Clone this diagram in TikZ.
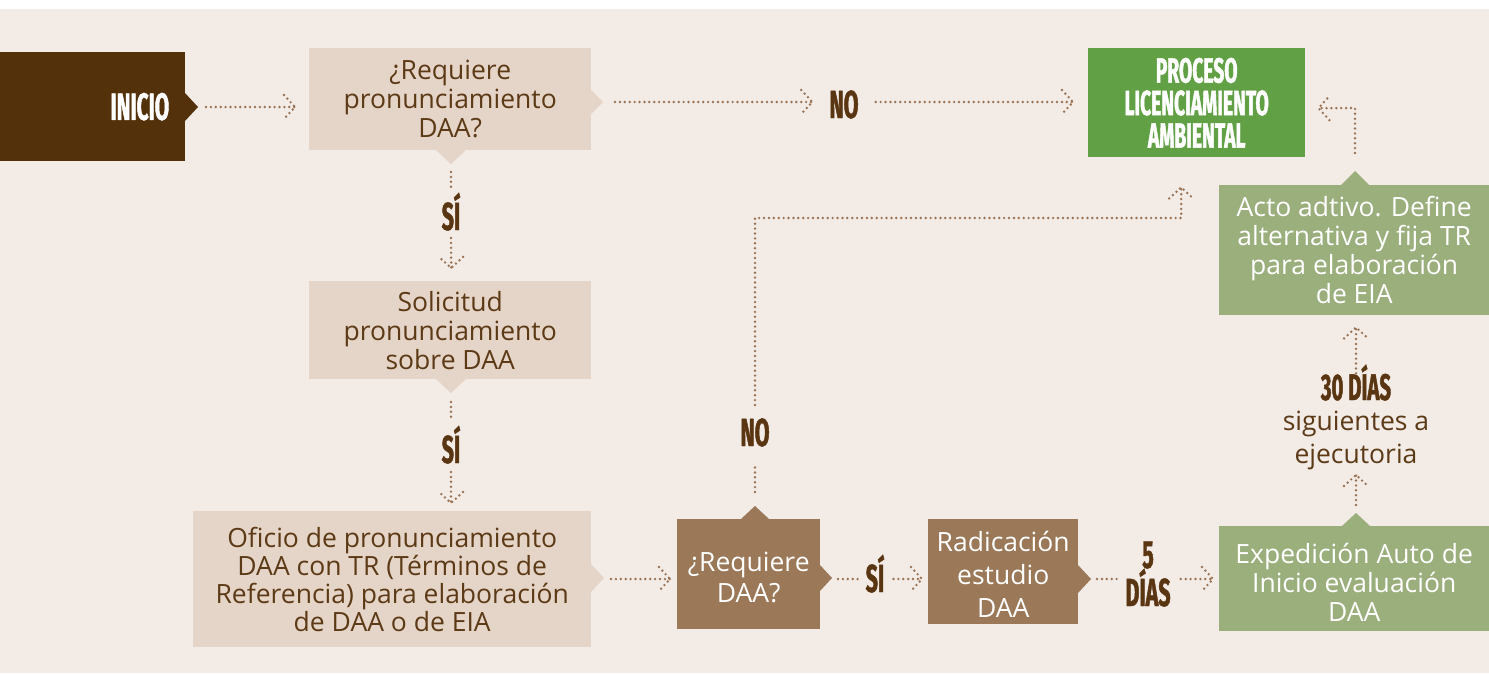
\documentclass[tikz,border=0pt]{standalone}
\usepackage{fontspec}
\setmainfont{Open Sans}
\newfontfamily\cond{Fira Sans}[FakeStretch=0.55,FakeBold=1.2]
\usetikzlibrary{decorations.markings,calc}
\definecolor{bg}{HTML}{F2EBE6}
\definecolor{dk}{HTML}{53310B}
\definecolor{lb}{HTML}{E5D5C8}
\definecolor{tc}{HTML}{5C3A16}
\definecolor{lc}{HTML}{5A3511}
\definecolor{dotc}{HTML}{9A7254}
\definecolor{mb}{HTML}{9A7858}
\definecolor{gr}{HTML}{62A046}
\definecolor{sg}{HTML}{9BAF7D}
\newcommand{\dnby}[1]{\rule{0pt}{\dimexpr 20pt+#1\relax}}
\tikzset{
  box/.style={inner sep=0pt, anchor=north west, align=center,
    font=\fontsize{26.5}{29}\selectfont},
  lab/.style={inner sep=0pt, anchor=base, align=center, text=lc,
    font=\cond\bfseries\fontsize{39}{38}\selectfont},
  dl/.style={draw=dotc, line width=2.7pt, line cap=round, dash pattern=on 0pt off 4.9pt},
  arr/.style={dl, postaction={decorate, decoration={markings,
    mark=at position 1 with {\draw[dl] (-11,-12) -- (0,0) -- (-11,12);}}}}
}
\begin{document}
\begin{tikzpicture}[x=1pt,y=-1pt]
\useasboundingbox (0,0) rectangle (1489,673);
\fill[white] (0,0) rectangle (1489,9);
\fill[bg] (0,9) rectangle (1489,673);

% boxes
\node[box, fill=dk, text=white, minimum width=185pt, minimum height=109pt,
  text width=153pt, inner xsep=16pt, align=right,
  font=\cond\bfseries\fontsize{38}{38}\selectfont] (ini) at (0,52) {INICIO};
\node[box, fill=lb, text=tc, minimum width=282pt, minimum height=102pt] (b1) at (309,48)
  {¿Requiere\\pronunciamiento\\DAA?};
\node[box, fill=lb, text=tc, minimum width=282pt, minimum height=98pt] (b2) at (309,281)
  {Solicitud\\pronunciamiento\\sobre DAA};
\node[box, fill=lb, text=tc, minimum width=398pt, minimum height=136pt,
  font=\fontsize{26.5}{28}\selectfont] (b3) at (193,511)
  {Oficio de pronunciamiento\\DAA con TR (Términos de\\Referencia) para elaboración\\de DAA o de EIA};
\node[box, fill=mb, text=white, minimum width=143pt, minimum height=110pt,
  font=\fontsize{26.5}{31}\selectfont] (b4) at (677,519) {\dnby{6pt}¿Requiere\\DAA?};
\node[box, fill=mb, text=white, minimum width=150pt, minimum height=105pt,
  font=\fontsize{26.5}{33}\selectfont] (b5) at (928,519) {\dnby{6pt}Radicación\\estudio\\DAA};
\node[box, fill=sg, text=white, minimum width=270pt, minimum height=105pt] (b6) at (1219,526)
  {\dnby{8pt}Expedición Auto de\\Inicio evaluación\\DAA};
\node[box, fill=sg, text=white, minimum width=270pt, minimum height=130pt] (b7) at (1219,185)
  {Acto adtivo. Define\\alternativa y fija TR\\para elaboración\\de EIA};
\node[box, fill=gr, text=white, minimum width=217pt, minimum height=109pt,
  font=\cond\bfseries\fontsize{35}{32.5}\selectfont] (pc) at (1088,48)
  {PROCESO\\LICENCIAMIENTO\\AMBIENTAL};

% pointers
\fill[dk] (185,93) -- (198,107) -- (185,121) -- cycle;
\fill[lb] (591,90) -- (603,102) -- (591,114) -- cycle;
\fill[lb] (436,150) -- (451,164) -- (466,150) -- cycle;
\fill[lb] (436,379) -- (451,393) -- (466,379) -- cycle;
\fill[lb] (591,564) -- (604,578) -- (591,592) -- cycle;
\fill[mb] (741,519) -- (755,506) -- (769,519) -- cycle;
\fill[mb] (820,565) -- (832,578) -- (820,591) -- cycle;
\fill[mb] (1078,565) -- (1091,579) -- (1078,593) -- cycle;
\fill[sg] (1342,526) -- (1356,513) -- (1370,526) -- cycle;
\fill[sg] (1341,185) -- (1355,171) -- (1369,185) -- cycle;
\coordinate (inip) at (198,107);
\coordinate (b1r) at (603,102);
\coordinate (b1b) at (451,164);
\coordinate (b2b) at (451,393);
\coordinate (b3r) at (604,579);
\coordinate (b4t) at (755,506);
\coordinate (b4r) at (832,579);
\coordinate (b5r) at (1091,579);
\coordinate (b6t) at (1356,513);
\coordinate (b7t) at (1355,171);

% labels
\node[lab] (n1) at (844,118) {NO};
\node[lab] (s1) at (451,230) {SÍ};
\node[lab] (s2) at (451,463) {SÍ};
\node[lab] (n2) at (755,446) {NO};
\node[lab] (s3) at (875,592) {SÍ};
\node[lab] (d5) at (1148,606) {5\\DÍAS};
\node[lab, font=\cond\bfseries\fontsize{37}{37}\selectfont] (d30) at (1356,400) {30 DÍAS};
\node[inner sep=0pt, anchor=base, align=center, text=tc,
  font=\fontsize{26.5}{33}\selectfont] (t30) at (1356,463) {siguientes a\\ejecutoria};

% connectors
\draw[arr] ($(inip)+(8,0)$) -- ($(inip -| b1.west)+(-14,0)$);
\draw[arr] ($(b1r)+(12,0)$) -- ($(b1r -| n1.west)+(-17,0)$);
\draw[arr] ($(b1r -| n1.east)+(17,0)$) -- ($(b1r -| pc.west)+(-15,0)$);
\draw[dl] ($(b1b)+(0,8)$) -- ($(b1b)+(0,26)$);
\draw[arr] ($(s1.base)+(0,8)$) -- ($(b2.north)+(1,-13)$);
\draw[dl] ($(b2b)+(0,9)$) -- ($(b2b)+(0,27)$);
\draw[arr] ($(s2.base)+(0,9)$) -- ($(b3.north -| s2.base)+(0,-8)$);
\draw[arr] ($(b3r)+(7,0)$) -- ($(b3r -| b4.west)+(-7,0)$);
\draw[dl] ($(b4t)+(0,-14)$) -- ($(b4t)+(0,-41)$);
\draw[arr] ($(n2.base)+(0,-41)$) -- (755,218) -| ($(pc.south)+(-15.5,30)$);
\draw[dl] ($(b4r)+(6,0)$) -- ($(b4r)+(26,0)$);
\draw[arr] ($(b4r -| s3.east)+(9,0)$) -- ($(b4r -| b5.west)+(-6,0)$);
\draw[dl] ($(b5r)+(6,0)$) -- ($(b5r)+(27,0)$);
\draw[arr] ($(b5r -| d5.east)+(10,0)$) -- ($(b5r -| b6.west)+(-6,0)$);
\draw[arr] ($(b6t)+(0,-8)$) -- ($(b6t)+(0,-38)$);
\draw[arr] ($(t30.north)+(0,-37)$) -- ($(b7.south -| t30.north)+(0,12)$);
\draw[arr] ($(b7t)+(0,-18)$) -- ($(b7t)+(0,-63)$) -- ($(pc.east)+(13,5.5)$);
\end{tikzpicture}
\end{document}
